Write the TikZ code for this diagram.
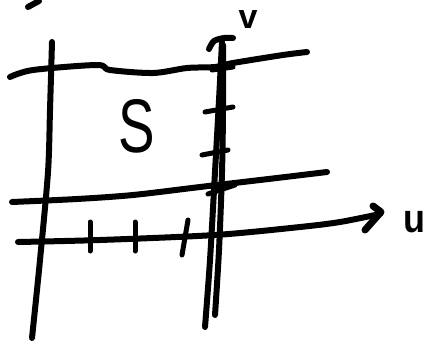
\documentclass[tikz,border=0pt]{standalone}
\usepackage{fontspec}
\setsansfont{Liberation Sans}
\usetikzlibrary{arrows.meta}

\begin{document}
\begin{tikzpicture}[x=1pt, y=-1pt, font=\sffamily,
    pen/.style={line width=6pt, line cap=round, line join=round},
    tick/.style={pen, line width=5pt},
    hand/.style={font=\sffamily\fontsize{#1}{#1}\selectfont}]
  \useasboundingbox (0,0) rectangle (430,343);
  \fill[white] (0,0) rectangle (430,343);

  % stray stroke in the corner
  \draw[pen] (28,7) -- (39,1);

  % left boundary of S
  \draw[pen] plot[smooth] coordinates {(52,42) (50,110) (48,172) (40,260) (32,338)};

  % top and bottom boundaries of S
  \draw[pen] plot[smooth] coordinates {(10,77) (33,70) (97,65) (110,70) (153,73) (187,68) (215,67) (233,63) (283,55) (307,52)};
  \draw[pen] plot[smooth] coordinates {(12,202) (77,199) (133,195) (200,187) (260,180) (327,172)};

  % u axis
  \draw[pen] plot[smooth] coordinates {(18,242) (100,240) (215,235) (300,227) (340,222) (380,214)};
  \draw[pen, line width=7pt] (373,206) -- (381,212) -- (365,230);
  \draw[tick] (90,222) -- (90,251);
  \draw[tick] (135,222) -- (135,251);
  \draw[tick] (188,220) -- (182,255);
  \node[hand=40, xscale=0.9] (lblu) at (414,222) {\bfseries u};

  % v axis, drawn twice
  \draw[pen] plot[smooth] coordinates {(222,42) (219,100) (215,172) (210,260) (205,327)};
  \draw[pen] plot[smooth] coordinates {(223,45) (223,110) (222,172) (219,250) (215,315)};
  \draw[pen] plot[smooth] coordinates {(209,49) (214,41) (224,38) (233,38)};
  \draw[tick] (212,70) -- (233,67);
  \draw[tick] (205,112) -- (233,107);
  \draw[tick] (202,155) -- (228,150);
  \draw[tick] (208,194) -- (235,185);
  \node[hand=34] (lblv) at (248,20) {\bfseries v};

  \node[hand=76, xscale=0.72] (lblS) at (137,126) {S};
\end{tikzpicture}
\end{document}
